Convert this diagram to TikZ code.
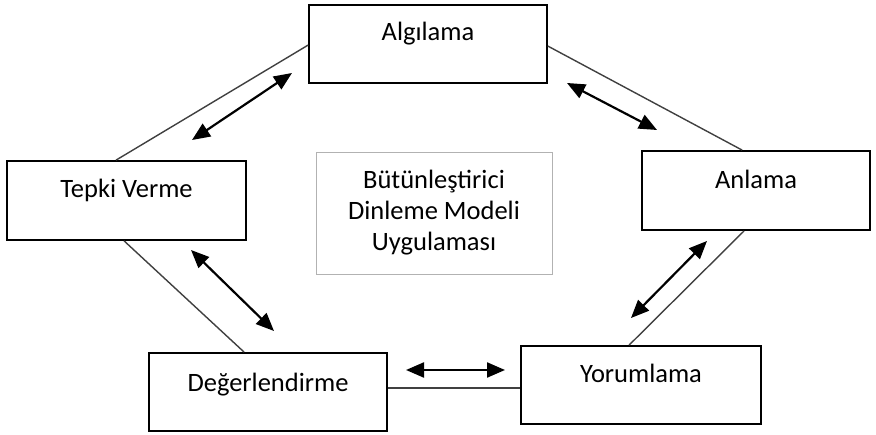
\documentclass[tikz,border=0pt]{standalone}
\usepackage{fontspec}
\setmainfont{Carlito}
\usetikzlibrary{arrows.meta,calc}

\begin{document}
\begin{tikzpicture}[x=1pt,y=-1pt,
  stage/.style={draw=black,line width=1.8pt,minimum width=238pt,minimum height=78pt,inner sep=0pt},
  caption/.style={anchor=base,font=\fontsize{26.5}{31}\selectfont},
  link/.style={draw=black!75,line width=1.4pt},
  flow/.style={draw=black,line width=2.2pt,{Triangle[length=18pt,width=15pt]}-{Triangle[length=18pt,width=15pt]}},
  corebox/.style={draw=black!30,line width=0.9pt,minimum width=236pt,minimum height=122pt,
    inner sep=0pt,align=center,font=\fontsize{26.5}{31}\selectfont}]

  \useasboundingbox (0,0) rectangle (876,435);

  % the five stages
  \node[stage] (alg) at (428,44) {};
  \node[stage,minimum width=239pt,minimum height=79pt] (tep) at (126.5,200.5) {};
  \node[stage,minimum width=228pt,minimum height=79pt] (anl) at (756,190.5) {};
  \node[stage,minimum width=240pt] (yor) at (641,385) {};
  \node[stage] (deg) at (268,392) {};

  \node[caption] at ($(alg.north)+(0,36)$) {Algılama};
  \node[caption] at ($(tep.north)+(0,37)$) {Tepki Verme};
  \node[caption] at ($(anl.north)+(0,38)$) {Anlama};
  \node[caption] at ($(yor.north)+(0,37)$) {Yorumlama};
  \node[caption] at ($(deg.north)+(0,39)$) {Değerlendirme};

  % model title in the middle
  \node[corebox] (core) at (434,213) {Bütünleştirici\\Dinleme Modeli\\Uygulaması};

  % thin links between the stages
  \draw[link] ($(tep.north west)+(110,0)$) -- ($(alg.north west)+(0,41)$);
  \draw[link] ($(alg.north east)+(0,42)$) -- ($(anl.north west)+(101,0)$);
  \draw[link] ($(anl.south west)+(103,0)$) -- ($(yor.north west)+(109,0)$);
  \draw[link] ($(deg.north east)+(0,36)$) -- ($(yor.north west)+(0,43)$);
  \draw[link] ($(tep.south west)+(118,0)$) -- ($(deg.north west)+(96,0)$);

  % two-way arrows
  \coordinate (a1) at (192,140); \coordinate (b1) at (292,73);
  \coordinate (a2) at (567,83);  \coordinate (b2) at (657,130);
  \coordinate (a3) at (707,241); \coordinate (b3) at (631,318);
  \coordinate (a4) at (191,250); \coordinate (b4) at (274,331);
  \coordinate (a5) at (406,370); \coordinate (b5) at (505,370);
  \draw[flow] (a1) -- (b1);
  \draw[flow] (a2) -- (b2);
  \draw[flow] (a3) -- (b3);
  \draw[flow] (a4) -- (b4);
  \draw[flow] (a5) -- (b5);
\end{tikzpicture}
\end{document}
